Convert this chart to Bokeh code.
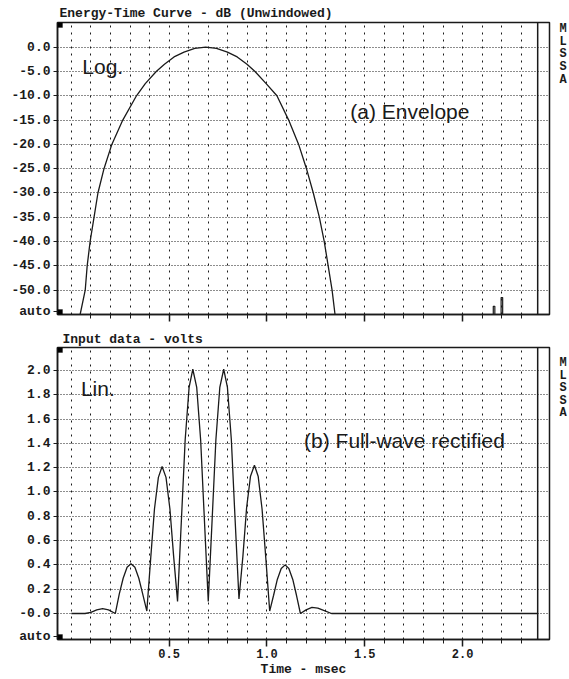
from bokeh.plotting import figure
from bokeh.models import Range1d, FixedTicker, Span, Label, BoxAnnotation, LinearAxis
from bokeh.layouts import column
from bokeh.embed import file_html
from bokeh.resources import INLINE

# ---------------- data ----------------
# Upper panel: Energy-Time Curve (dB) vs time (msec)
etc_t = [0.045, 0.071, 0.081, 0.096, 0.116, 0.136, 0.167, 0.207, 0.263, 0.333,
         0.378, 0.434, 0.476, 0.525, 0.576, 0.631, 0.687, 0.742, 0.798, 0.848,
         0.898, 0.939, 0.996, 1.051, 1.111, 1.162, 1.202, 1.237, 1.268, 1.293,
         1.313, 1.333, 1.348]
etc_db = [-55.0, -50.0, -45.0, -40.0, -35.0, -30.0, -25.0, -20.0, -15.0, -10.0,
          -7.5, -5.0, -3.5, -2.0, -1.0, -0.25, 0.0, -0.25, -1.0, -2.0,
          -3.5, -5.0, -7.5, -10.0, -15.0, -20.0, -25.0, -30.0, -35.0, -40.0,
          -45.0, -50.0, -55.0]
spike1_t = [2.157, 2.157, 2.165, 2.165]
spike1_db = [-55.0, -53.3, -53.3, -55.0]
spike2_t = [2.197, 2.197, 2.205, 2.205]
spike2_db = [-55.0, -51.5, -51.5, -55.0]

# Lower panel: full-wave rectified input (volts) vs time (msec)
lin_t = [0.000, 0.070, 0.100, 0.130, 0.160, 0.190, 0.225,
         0.245, 0.265, 0.285, 0.305, 0.325, 0.345, 0.365, 0.386,
         0.406, 0.425, 0.445, 0.464, 0.484, 0.504, 0.523, 0.543,
         0.563, 0.582, 0.602, 0.621, 0.641, 0.661, 0.680, 0.700,
         0.720, 0.739, 0.759, 0.779, 0.798, 0.818, 0.837, 0.857,
         0.877, 0.896, 0.916, 0.936, 0.955, 0.975, 0.994, 1.014,
         1.034, 1.053, 1.073, 1.093, 1.112, 1.132, 1.151, 1.171,
         1.200, 1.230, 1.260, 1.290, 1.330, 2.384]
lin_v = [0.00, 0.00, 0.01, 0.03, 0.04, 0.03, 0.00,
         0.16, 0.29, 0.38, 0.41, 0.38, 0.29, 0.16, 0.02,
         0.46, 0.86, 1.12, 1.21, 1.12, 0.86, 0.47, 0.10,
         0.78, 1.43, 1.86, 2.01, 1.86, 1.43, 0.78, 0.10,
         0.78, 1.43, 1.86, 2.01, 1.86, 1.43, 0.78, 0.12,
         0.47, 0.87, 1.13, 1.22, 1.13, 0.86, 0.46, 0.02,
         0.15, 0.28, 0.37, 0.40, 0.37, 0.28, 0.15, 0.00,
         0.03, 0.05, 0.045, 0.025, 0.00, 0.00]

# axes / ticks
x_major = [0.5, 1.0, 1.5, 2.0]
x_major_labels = ["0.5", "1.0", "1.5", "2.0"]
x_minor = [0.1, 0.2, 0.3, 0.4, 0.6, 0.7, 0.8, 0.9, 1.1, 1.2, 1.3, 1.4,
           1.6, 1.7, 1.8, 1.9, 2.1, 2.2, 2.3]
x_grid = [0.0, 0.1, 0.2, 0.3, 0.4, 0.5, 0.6, 0.7, 0.8, 0.9, 1.0, 1.1, 1.2,
          1.3, 1.4, 1.5, 1.6, 1.7, 1.8, 1.9, 2.0, 2.1, 2.2, 2.3]
x_end_marker = 2.384

db_ticks = [0.0, -5.0, -10.0, -15.0, -20.0, -25.0, -30.0, -35.0, -40.0, -45.0, -50.0]
db_labels = ["0.0", "-5.0", "-10.0", "-15.0", "-20.0", "-25.0", "-30.0",
             "-35.0", "-40.0", "-45.0", "-50.0"]
db_auto = -54.4
volt_ticks = [2.0, 1.8, 1.6, 1.4, 1.2, 1.0, 0.8, 0.6, 0.4, 0.2, 0.0]
volt_labels = ["2.0", "1.8", "1.6", "1.4", "1.2", "1.0", "0.8", "0.6", "0.4",
               "0.2", "-0.0"]
volt_auto = -0.19

# cut-off side legend letters at the right edge
side_letters = ["M", "L", "S", "S", "A"]
side_pos_db = [3.64, 1.07, -1.50, -4.07, -6.65]
side_pos_v = [2.058, 1.955, 1.852, 1.749, 1.646]

X_RANGE = (-0.0707, 2.4444)
DB_RANGE = (-55.0, 5.08)
V_RANGE = (-0.214, 2.189)

MONO = "Liberation Mono"
SANS = "Liberation Sans"
INK = "#1a1a1a"


def style(p, yticks, ylabels, yauto, show_xlabels):
    p.outline_line_color = INK
    p.outline_line_width = 1.5
    p.background_fill_color = "white"
    p.border_fill_color = "white"
    # x axis
    xa = p.xaxis[0]
    xa.ticker = FixedTicker(ticks=x_major, minor_ticks=x_minor)
    if show_xlabels:
        xa.major_label_overrides = {t: s for t, s in zip(x_major, x_major_labels)}
        xa.major_label_text_font_size = "12px"
    else:
        xa.major_label_overrides = {t: "" for t in x_major}
        xa.major_label_text_font_size = "1px"
    xa.major_tick_out = 7
    xa.major_tick_in = 0
    xa.minor_tick_out = 4
    xa.minor_tick_in = 0
    xa.axis_line_color = INK
    xa.axis_line_width = 1.5
    xa.major_tick_line_color = INK
    xa.minor_tick_line_color = INK
    xa.major_tick_line_width = 1.5
    xa.major_label_text_font = MONO
    xa.major_label_text_font_style = "bold"
    xa.major_label_text_color = INK
    xa.major_label_standoff = 2
    # y axis
    ya = p.yaxis[0]
    ya.ticker = FixedTicker(ticks=yticks + [yauto])
    ov = {t: s for t, s in zip(yticks, ylabels)}
    ov[yauto] = "auto"
    ya.major_label_overrides = ov
    ya.major_tick_out = 4
    ya.major_tick_in = 0
    ya.minor_tick_out = 0
    ya.axis_line_color = INK
    ya.axis_line_width = 1.5
    ya.major_tick_line_color = INK
    ya.major_label_text_font = MONO
    ya.major_label_text_font_style = "bold"
    ya.major_label_text_font_size = "13px"
    ya.major_label_text_color = INK
    ya.major_label_standoff = 3
    # grids
    p.xgrid.ticker = FixedTicker(ticks=x_grid)
    p.xgrid.grid_line_color = INK
    p.xgrid.grid_line_dash = "2 5"
    p.xgrid.grid_line_width = 1
    p.ygrid.ticker = FixedTicker(ticks=yticks)
    p.ygrid.grid_line_color = INK
    p.ygrid.grid_line_dash = "1 2"
    p.ygrid.grid_line_width = 1
    p.add_layout(Span(location=x_end_marker, dimension="height",
                      line_color=INK, line_width=1.5))


def corner_squares(p, top_y0, top_y1):
    for b, t in [(0, 5), (top_y0, top_y1)]:
        p.add_layout(BoxAnnotation(left=0, right=5, bottom=b, top=t,
                                   left_units="screen", right_units="screen",
                                   bottom_units="screen", top_units="screen",
                                   fill_color="black", fill_alpha=1.0,
                                   line_color="black"))


def add_side_letters(p, positions):
    ax = LinearAxis(ticker=FixedTicker(ticks=positions),
                    major_label_overrides={t: s for t, s in zip(positions, side_letters)})
    ax.axis_line_color = None
    ax.major_tick_line_color = None
    ax.minor_tick_line_color = None
    ax.major_label_standoff = 4
    ax.major_label_text_font = MONO
    ax.major_label_text_font_style = "bold"
    ax.major_label_text_font_size = "12px"
    ax.major_label_text_color = INK
    p.add_layout(ax, "right")


def set_title(p, text, offset, standoff):
    p.title.text = text
    p.title.align = "left"
    p.title.offset = offset
    p.title.standoff = standoff
    p.title.text_font = MONO
    p.title.text_font_style = "bold"
    p.title.text_font_size = "13px"
    p.title.text_color = INK


# ---------------- upper panel ----------------
p1 = figure(width=569, height=328, output_backend="svg", toolbar_location=None,
            x_range=Range1d(*X_RANGE), y_range=Range1d(*DB_RANGE),
            min_border_left=57, min_border_right=14, min_border_top=22,
            min_border_bottom=14, title="")
style(p1, db_ticks, db_labels, db_auto, show_xlabels=False)
set_title(p1, "Energy-Time Curve - dB (Unwindowed)", 2, 3)
p1.line(etc_t, etc_db, line_color=INK, line_width=1.3)
p1.line(spike1_t, spike1_db, line_color=INK, line_width=1.2)
p1.line(spike2_t, spike2_db, line_color=INK, line_width=1.2)
p1.add_layout(Label(x=0.056, y=-3.9, text="Log.", text_font=SANS,
                    text_font_size="21px", text_color=INK,
                    text_baseline="alphabetic"))
p1.add_layout(Label(x=2.035, y=-13.2, text="(a) Envelope", text_font=SANS,
                    text_font_size="21px", text_color=INK, text_align="right",
                    text_baseline="alphabetic"))
corner_squares(p1, 287, 292)
add_side_letters(p1, side_pos_db)

# ---------------- lower panel ----------------
p2 = figure(width=569, height=351, output_backend="svg", toolbar_location=None,
            x_range=Range1d(*X_RANGE), y_range=Range1d(*V_RANGE),
            min_border_left=57, min_border_right=14, min_border_top=19,
            min_border_bottom=40, title="")
style(p2, volt_ticks, volt_labels, volt_auto, show_xlabels=True)
set_title(p2, "Input data - volts", 5, 2)
p2.xaxis[0].axis_label = "Time - msec"
p2.xaxis[0].axis_label_text_font = MONO
p2.xaxis[0].axis_label_text_font_style = "bold"
p2.xaxis[0].axis_label_text_font_size = "13px"
p2.xaxis[0].axis_label_text_color = INK
p2.xaxis[0].axis_label_standoff = 1
p2.line(lin_t, lin_v, line_color=INK, line_width=1.3)
p2.add_layout(Label(x=0.049, y=1.85, text="Lin.", text_font=SANS,
                    text_font_size="21px", text_color=INK,
                    text_baseline="alphabetic"))
p2.add_layout(Label(x=1.19, y=1.424, text="(b) Full-wave rectified",
                    text_font=SANS, text_font_size="21px", text_color=INK,
                    text_baseline="alphabetic"))
corner_squares(p2, 287, 292)
add_side_letters(p2, side_pos_v)

layout = column(p1, p2)
open("out.html", "w").write(file_html(layout, INLINE))
